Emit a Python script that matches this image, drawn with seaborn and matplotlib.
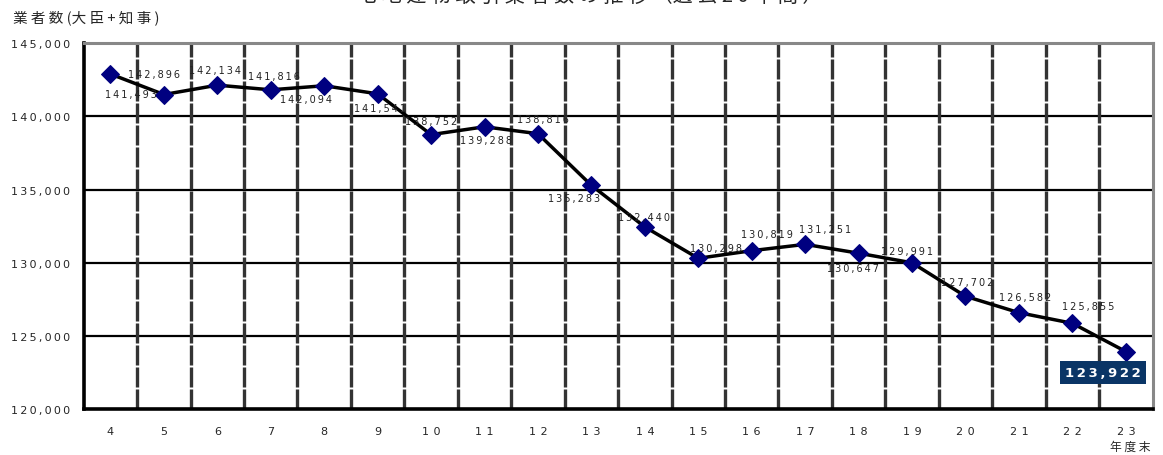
import pandas as pd
import seaborn as sns
import matplotlib.pyplot as plt

# Data
years = [4, 5, 6, 7, 8, 9, 10, 11, 12, 13, 14, 15, 16, 17, 18, 19, 20, 21, 22, 23]
counts = [142896, 141493, 142134, 141816, 142094, 141541, 138752, 139288, 138816, 135283,
          132440, 130298, 130819, 131251, 130647, 129991, 127702, 126582, 125855, 123922]
y_ticks = [120000, 125000, 130000, 135000, 140000, 145000]

# label offsets in pixels (dx, dy), mimic the original placement
offsets = [(44, 0), (-33, 1), (-2, 15), (3, 14), (-18, -13), (2, -14), (0, 14), (1, -13),
           (5, 15), (-17, -13), (-1, 10), (18, 10), (15, 17), (20, 15), (-6, -15), (-5, 12),
           (2, 14), (6, 16), (16, 17)]

def spaced(s, sep='\u2009'):
    return sep.join(s)

df = pd.DataFrame({'year': years, 'count': counts})

sns.set_style('white')
plt.rcParams['font.family'] = ['Noto Sans CJK JP', 'DejaVu Sans']

fig, ax = plt.subplots(figsize=(11.63, 4.56), dpi=100)
fig.subplots_adjust(left=0.072, right=0.991, top=0.903, bottom=0.101)

# grid
for v in y_ticks[1:-1]:
    ax.axhline(v, color='black', lw=1.6, zorder=1)
for i in range(len(years) - 1):
    ax.axvline(years[i] + 0.5, color='#333333', lw=2.4, ls=(0, (6, 0.6)), zorder=1)

sns.lineplot(data=df, x='year', y='count', color='black', lw=2.5, marker='D',
             markersize=9, markerfacecolor='#000080', markeredgecolor='#000080', ax=ax, zorder=3)

for (x, y), (dx, dy) in zip(zip(years[:-1], counts[:-1]), offsets):
    ax.annotate(spaced(f'{y:,}'), (x, y), xytext=(dx, dy), textcoords='offset pixels',
                ha='center', va='center', fontsize=7, color='#222222', family='DejaVu Sans', zorder=4)

# latest value highlighted
ax.annotate(spaced(f'{counts[-1]:,}'), (years[-1], counts[-1]), xytext=(-23, -21),
            textcoords='offset pixels', ha='center', va='center', fontsize=9.5,
            fontweight='bold', color='white', family='DejaVu Sans', zorder=5,
            bbox=dict(boxstyle='square,pad=0.4', fc='#0a3566', ec='none'))

ax.set_xlim(3.5, 23.5)
ax.set_ylim(120000, 145000)
ax.set_xticks(years)
ax.set_xticklabels([spaced(str(y), '\u2009\u2009') for y in years], fontsize=8, family='DejaVu Sans')
ax.set_yticks(y_ticks)
ax.set_yticklabels([spaced(f'{v:,}') for v in y_ticks], fontsize=8, family='DejaVu Sans')
ax.tick_params(axis='x', length=0, pad=12)
ax.tick_params(axis='y', length=0, pad=10)
ax.set_xlabel('')
ax.set_ylabel('')

for side in ['left', 'bottom']:
    ax.spines[side].set_color('black')
    ax.spines[side].set_linewidth(2.6)
for side in ['top', 'right']:
    ax.spines[side].set_color('#888888')
    ax.spines[side].set_linewidth(2.2)

fig.text(0.011, 0.962, '業 者 数 (大 臣 + 知 事 )', fontsize=10.5, va='center', ha='left')
fig.text(0.989, 0.018, '年 度 末', fontsize=8.5, va='center', ha='right')
fig.text(0.507, 1.008, '宅 地 建 物 取 引 業 者 数 の 推 移 （過 去 2 0 年 間 ）',
         fontsize=14.5, va='center', ha='center')

fig.savefig('out.png', dpi=100)
